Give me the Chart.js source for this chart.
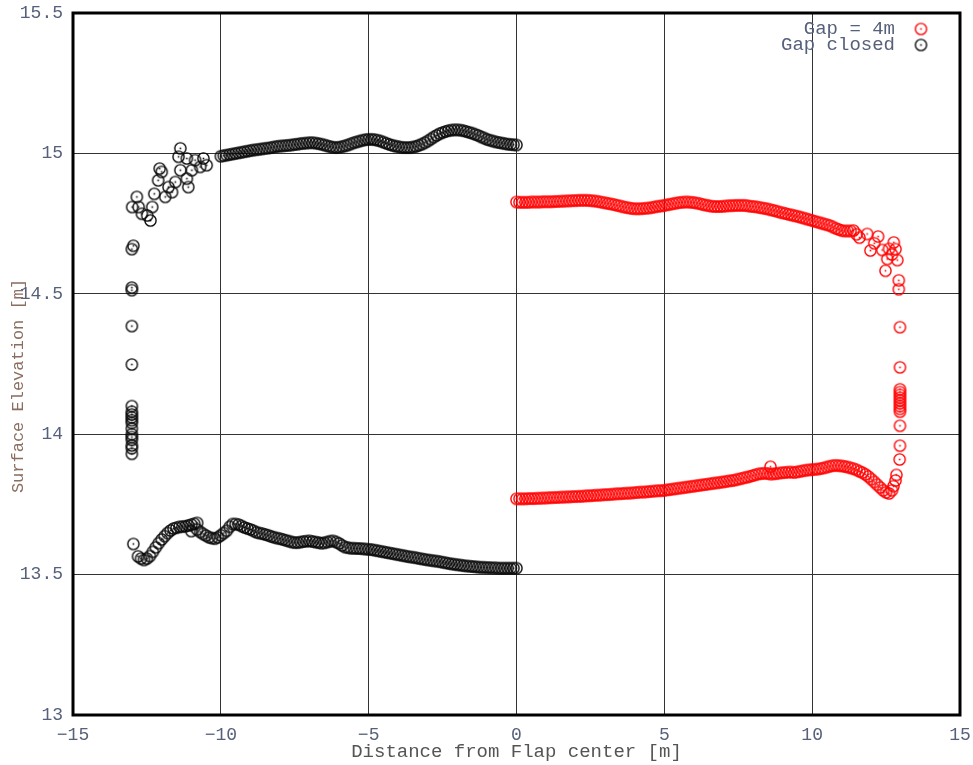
<!DOCTYPE html>
<html>
<head>
<meta charset="utf-8">
<script src="https://cdn.jsdelivr.net/npm/chart.js@4.4.1/dist/chart.umd.min.js"></script>
<style>
  body { margin: 0; background: #fff; }
  canvas { display: block; }
</style>
</head>
<body>
<canvas id="flapChart" width="973" height="765"></canvas>
<script>
// Gap = 4m (red), upper branch
const redUpperX = [0, 0.1, 0.2, 0.3, 0.4, 0.5, 0.6, 0.7, 0.8, 0.9, 1.0, 1.1, 1.2, 1.3, 1.4, 1.5, 1.6, 1.7, 1.8, 1.9,
  2.0, 2.1, 2.2, 2.3, 2.4, 2.5, 2.6, 2.7, 2.8, 2.9, 3.0, 3.1, 3.2, 3.3, 3.4, 3.5, 3.6, 3.7, 3.8, 3.9,
  4.0, 4.1, 4.2, 4.3, 4.4, 4.5, 4.6, 4.7, 4.8, 4.9, 5.0, 5.1, 5.2, 5.3, 5.4, 5.5, 5.6, 5.7, 5.8, 5.9,
  6.0, 6.1, 6.2, 6.3, 6.4, 6.5, 6.6, 6.7, 6.8, 6.9, 7.0, 7.1, 7.2, 7.3, 7.4, 7.5, 7.6, 7.7, 7.8, 7.9,
  8.0, 8.1, 8.2, 8.3, 8.4, 8.5, 8.6, 8.7, 8.8, 8.9, 9.0, 9.1, 9.2, 9.3, 9.4, 9.5, 9.6, 9.7, 9.8, 9.9,
  10.0, 10.1, 10.2, 10.3, 10.4, 10.5, 10.6, 10.7, 10.8, 10.9, 11.0, 11.1, 11.2, 11.3, 11.4, 11.5, 11.6];
const redUpperY = [14.827, 14.826, 14.826, 14.826, 14.826, 14.827, 14.827, 14.827, 14.827, 14.828, 14.828, 14.828, 14.828, 14.829, 14.829, 14.830, 14.830, 14.831, 14.831, 14.832,
  14.832, 14.833, 14.833, 14.833, 14.833, 14.832, 14.831, 14.830, 14.828, 14.826, 14.824, 14.822, 14.820, 14.818, 14.815, 14.813, 14.810, 14.808, 14.806, 14.804,
  14.803, 14.803, 14.803, 14.804, 14.805, 14.806, 14.808, 14.810, 14.812, 14.813, 14.815, 14.817, 14.819, 14.821, 14.823, 14.825, 14.826, 14.827, 14.827, 14.826,
  14.825, 14.823, 14.821, 14.818, 14.816, 14.814, 14.812, 14.811, 14.811, 14.811, 14.812, 14.813, 14.814, 14.814, 14.815, 14.815, 14.815, 14.815, 14.814, 14.812,
  14.811, 14.810, 14.808, 14.806, 14.804, 14.802, 14.799, 14.797, 14.794, 14.791, 14.788, 14.786, 14.783, 14.781, 14.778, 14.776, 14.773, 14.770, 14.767, 14.764,
  14.761, 14.758, 14.755, 14.752, 14.749, 14.746, 14.743, 14.738, 14.733, 14.729, 14.725, 14.724, 14.724, 14.724, 14.725, 14.712, 14.700];

// Gap = 4m, lower branch
const redLowerX = [0, 0.1, 0.2, 0.3, 0.4, 0.5, 0.6, 0.7, 0.8, 0.9, 1.0, 1.1, 1.2, 1.3, 1.4, 1.5, 1.6, 1.7, 1.8, 1.9,
  2.0, 2.1, 2.2, 2.3, 2.4, 2.5, 2.6, 2.7, 2.8, 2.9, 3.0, 3.1, 3.2, 3.3, 3.4, 3.5, 3.6, 3.7, 3.8, 3.9,
  4.0, 4.1, 4.2, 4.3, 4.4, 4.5, 4.6, 4.7, 4.8, 4.9, 5.0, 5.1, 5.2, 5.3, 5.4, 5.5, 5.6, 5.7, 5.8, 5.9,
  6.0, 6.1, 6.2, 6.3, 6.4, 6.5, 6.6, 6.7, 6.8, 6.9, 7.0, 7.1, 7.2, 7.3, 7.4, 7.5, 7.6, 7.7, 7.8, 7.9,
  8.0, 8.1, 8.2, 8.3, 8.4, 8.5, 8.6, 8.7, 8.8, 8.9, 9.0, 9.1, 9.2, 9.3, 9.4, 9.5, 9.6, 9.7, 9.8, 9.9,
  10.0, 10.1, 10.2, 10.3, 10.4, 10.5, 10.6, 10.7, 10.8, 10.9, 11.0, 11.1, 11.2, 11.3, 11.4, 11.5, 11.6, 11.7, 11.8, 11.9,
  12.0, 12.1, 12.2, 12.3, 12.4, 12.5, 12.6, 12.7, 12.75, 12.82, 12.85, 8.59];
const redLowerY = [13.770, 13.770, 13.770, 13.770, 13.771, 13.771, 13.771, 13.772, 13.772, 13.773, 13.773, 13.774, 13.774, 13.775, 13.775, 13.776, 13.776, 13.777, 13.777, 13.778,
  13.778, 13.779, 13.779, 13.780, 13.781, 13.781, 13.782, 13.783, 13.783, 13.784, 13.785, 13.785, 13.786, 13.787, 13.788, 13.788, 13.789, 13.790, 13.790, 13.791,
  13.792, 13.793, 13.794, 13.794, 13.795, 13.796, 13.797, 13.798, 13.799, 13.799, 13.800, 13.802, 13.803, 13.805, 13.806, 13.808, 13.809, 13.811, 13.812, 13.814,
  13.815, 13.817, 13.818, 13.820, 13.821, 13.823, 13.824, 13.826, 13.827, 13.829, 13.830, 13.832, 13.834, 13.835, 13.837, 13.840, 13.842, 13.845, 13.847, 13.850,
  13.853, 13.856, 13.859, 13.860, 13.861, 13.860, 13.858, 13.859, 13.860, 13.862, 13.863, 13.864, 13.865, 13.865, 13.864, 13.866, 13.868, 13.870, 13.872, 13.873,
  13.874, 13.875, 13.876, 13.878, 13.880, 13.883, 13.886, 13.888, 13.889, 13.888, 13.887, 13.885, 13.883, 13.880, 13.877, 13.873, 13.868, 13.863, 13.857, 13.849,
  13.840, 13.830, 13.820, 13.810, 13.800, 13.793, 13.789, 13.800, 13.815, 13.835, 13.855, 13.884];

// Gap = 4m, scattered points near the flap edge
const redEdgeX = [11.86, 12.23, 11.97, 12.37, 12.76, 12.82, 12.54, 12.88, 12.48, 12.93, 12.93, 12.10, 12.60, 12.70,
  12.97, 12.97, 12.97, 12.97, 12.97, 12.97, 12.97, 12.97, 12.97, 12.97, 12.97, 12.97, 12.97, 12.96];
const redEdgeY = [14.713, 14.704, 14.654, 14.656, 14.683, 14.659, 14.624, 14.620, 14.582, 14.548, 14.516, 14.680, 14.660, 14.640,
  14.381, 14.238, 14.160, 14.150, 14.140, 14.130, 14.120, 14.110, 14.100, 14.090, 14.080, 14.030, 13.959, 13.910];

// Gap closed (black), upper branch
const closedUpperX = [-10.0, -9.9, -9.8, -9.7, -9.6, -9.5, -9.4, -9.3, -9.2, -9.1, -9.0, -8.9, -8.8, -8.7, -8.6, -8.5, -8.4, -8.3, -8.2, -8.1,
  -8.0, -7.9, -7.8, -7.7, -7.6, -7.5, -7.4, -7.3, -7.2, -7.1, -7.0, -6.9, -6.8, -6.7, -6.6, -6.5, -6.4, -6.3, -6.2, -6.1,
  -6.0, -5.9, -5.8, -5.7, -5.6, -5.5, -5.4, -5.3, -5.2, -5.1, -5.0, -4.9, -4.8, -4.7, -4.6, -4.5, -4.4, -4.3, -4.2, -4.1,
  -4.0, -3.9, -3.8, -3.7, -3.6, -3.5, -3.4, -3.3, -3.2, -3.1, -3.0, -2.9, -2.8, -2.7, -2.6, -2.5, -2.4, -2.3, -2.2, -2.1,
  -2.0, -1.9, -1.8, -1.7, -1.6, -1.5, -1.4, -1.3, -1.2, -1.1, -1.0, -0.9, -0.8, -0.7, -0.6, -0.5, -0.4, -0.3, -0.2, -0.1, 0];
const closedUpperY = [14.990, 14.992, 14.994, 14.996, 14.998, 15.000, 15.002, 15.004, 15.006, 15.008, 15.010, 15.012, 15.013, 15.015, 15.016, 15.018, 15.019, 15.021, 15.023, 15.025,
  15.026, 15.027, 15.028, 15.029, 15.030, 15.032, 15.033, 15.035, 15.036, 15.037, 15.038, 15.038, 15.037, 15.035, 15.033, 15.030, 15.027, 15.024, 15.022, 15.021,
  15.022, 15.024, 15.027, 15.030, 15.034, 15.038, 15.041, 15.044, 15.047, 15.049, 15.050, 15.050, 15.049, 15.047, 15.044, 15.040, 15.036, 15.032, 15.029, 15.026,
  15.024, 15.022, 15.021, 15.021, 15.021, 15.023, 15.025, 15.029, 15.033, 15.038, 15.044, 15.051, 15.058, 15.064, 15.070, 15.074, 15.078, 15.081, 15.083, 15.084,
  15.084, 15.083, 15.081, 15.078, 15.075, 15.072, 15.068, 15.064, 15.059, 15.055, 15.050, 15.047, 15.044, 15.041, 15.039, 15.037, 15.035, 15.033, 15.032, 15.031, 15.030];

// Gap closed, scattered points near the flap edge (upper)
const closedScatterX = [-11.37, -11.43, -11.15, -10.87, -10.59, -10.48, -10.70, -10.98, -11.37, -11.15, -12.07, -12.00, -12.12, -11.54,
  -11.77, -11.10, -11.88, -12.25, -11.65, -12.84, -13.00, -12.78, -12.67, -12.38, -12.32, -12.49];
const closedScatterY = [15.018, 14.988, 14.982, 14.976, 14.982, 14.958, 14.952, 14.940, 14.940, 14.910, 14.946, 14.934, 14.904, 14.898,
  14.880, 14.880, 14.845, 14.856, 14.862, 14.845, 14.809, 14.809, 14.785, 14.761, 14.809, 14.779];

// Gap closed, vertical column at the flap edge
const closedEdgeX = [-12.96, -13.01, -13.01, -13.01, -13.01, -13.01, -13.01, -13.01, -13.01, -13.01, -13.01, -13.01,
  -13.01, -13.01, -13.01, -13.01, -13.01, -13.01, -13.01, -12.96];
const closedEdgeY = [14.671, 14.659, 14.522, 14.513, 14.385, 14.248, 14.100, 14.080, 14.070, 14.060, 14.050, 14.040,
  14.020, 14.000, 13.990, 13.980, 13.960, 13.950, 13.930, 13.609];

// Gap closed, lower branch
const closedLowerX = [-12.8, -12.7, -12.6, -12.5, -12.4, -12.3, -12.2, -12.1, -12.0, -11.9, -11.8, -11.7, -11.6, -11.5, -11.4, -11.3, -11.2, -11.1,
  -11.0, -10.9, -10.8, -10.7, -10.6, -10.5, -10.4, -10.3, -10.2, -10.1, -10.0, -9.9, -9.8, -9.7, -9.6, -9.5, -9.4, -9.3, -9.2, -9.1,
  -9.0, -8.9, -8.8, -8.7, -8.6, -8.5, -8.4, -8.3, -8.2, -8.1, -8.0, -7.9, -7.8, -7.7, -7.6, -7.5, -7.4, -7.3, -7.2, -7.1,
  -7.0, -6.9, -6.8, -6.7, -6.6, -6.5, -6.4, -6.3, -6.2, -6.1, -6.0, -5.9, -5.8, -5.7, -5.6, -5.5, -5.4, -5.3, -5.2, -5.1,
  -5.0, -4.9, -4.8, -4.7, -4.6, -4.5, -4.4, -4.3, -4.2, -4.1, -4.0, -3.9, -3.8, -3.7, -3.6, -3.5, -3.4, -3.3, -3.2, -3.1,
  -3.0, -2.9, -2.8, -2.7, -2.6, -2.5, -2.4, -2.3, -2.2, -2.1, -2.0, -1.9, -1.8, -1.7, -1.6, -1.5, -1.4, -1.3, -1.2, -1.1,
  -1.0, -0.9, -0.8, -0.7, -0.6, -0.5, -0.4, -0.3, -0.2, -0.1, 0, -10.8, -11.0];
const closedLowerY = [13.565, 13.557, 13.552, 13.557, 13.566, 13.581, 13.597, 13.612, 13.625, 13.637, 13.648, 13.657, 13.664, 13.667, 13.670, 13.671, 13.672, 13.675,
  13.678, 13.681, 13.684, 13.652, 13.645, 13.639, 13.633, 13.630, 13.628, 13.633, 13.640, 13.648, 13.656, 13.670, 13.680, 13.680, 13.678, 13.673, 13.668, 13.664,
  13.661, 13.656, 13.651, 13.648, 13.646, 13.643, 13.640, 13.636, 13.633, 13.630, 13.628, 13.625, 13.622, 13.619, 13.616, 13.614, 13.614, 13.616, 13.618, 13.619,
  13.620, 13.618, 13.616, 13.614, 13.612, 13.613, 13.616, 13.619, 13.620, 13.616, 13.611, 13.604, 13.598, 13.596, 13.594, 13.594, 13.593, 13.593, 13.592, 13.591,
  13.590, 13.589, 13.587, 13.585, 13.583, 13.581, 13.579, 13.577, 13.575, 13.573, 13.571, 13.569, 13.567, 13.565, 13.563, 13.562, 13.560, 13.558, 13.556, 13.554,
  13.552, 13.551, 13.549, 13.548, 13.546, 13.544, 13.542, 13.540, 13.538, 13.537, 13.535, 13.534, 13.532, 13.531, 13.530, 13.529, 13.528, 13.527, 13.526, 13.526,
  13.525, 13.525, 13.524, 13.524, 13.523, 13.523, 13.523, 13.523, 13.523, 13.523, 13.523, 13.660, 13.655];

const seriesLabels = ["Gap = 4m", "Gap closed"];
const xTicks = [-15, -10, -5, 0, 5, 10, 15];
const yTicks = [13, 13.5, 14, 14.5, 15, 15.5];
const xTitle = "Distance from Flap center [m]";
const yTitle = "Surface Elevation [m]";

const toPoints = (xs, ys) => xs.map((x, i) => ({ x: x, y: ys[i] }));

// gnuplot style circle with a dot in the middle
const circleDot = (color) => {
  const c = document.createElement("canvas");
  c.width = 15;
  c.height = 15;
  const g = c.getContext("2d");
  g.strokeStyle = color;
  g.fillStyle = color;
  g.lineWidth = 1.4;
  g.beginPath();
  g.arc(7.5, 7.5, 5.6, 0, Math.PI * 2);
  g.stroke();
  g.fillRect(6.7, 6.7, 1.6, 1.6);
  return c;
};

const redDot = circleDot("rgb(255,0,0)");
const blackDot = circleDot("rgb(10,10,10)");

const tickColor = "#56607a";
const monoFont = "'Liberation Mono', 'Courier New', monospace";

const frameAndLegend = {
  id: "frameAndLegend",
  afterDraw(chart) {
    const { ctx, chartArea } = chart;
    ctx.save();
    ctx.strokeStyle = "#000";
    ctx.lineWidth = 3;
    ctx.strokeRect(chartArea.left, chartArea.top, chartArea.right - chartArea.left, chartArea.bottom - chartArea.top);

    // y axis title, sits a bit below the middle like the gnuplot output
    ctx.save();
    ctx.translate(18, 386);
    ctx.rotate(-Math.PI / 2);
    ctx.font = "17px " + monoFont;
    ctx.fillStyle = "#8a6e60";
    ctx.textAlign = "center";
    ctx.textBaseline = "middle";
    ctx.fillText(yTitle, 0, 0);
    ctx.restore();

    ctx.font = "19px " + monoFont;
    ctx.fillStyle = tickColor;
    ctx.textAlign = "right";
    ctx.textBaseline = "middle";
    const imgs = [redDot, blackDot];
    seriesLabels.forEach((lbl, i) => {
      const y = 29 + i * 16;
      ctx.fillText(lbl, 895, y);
      ctx.drawImage(imgs[i], 921 - 7.5, y - 7.5);
    });
    ctx.restore();
  },
};

const ctx = document.getElementById("flapChart").getContext("2d");

new Chart(ctx, {
  type: "scatter",
  data: {
    datasets: [
      {
        label: seriesLabels[0],
        data: [
          ...toPoints(redUpperX, redUpperY),
          ...toPoints(redLowerX, redLowerY),
          ...toPoints(redEdgeX, redEdgeY),
        ],
        pointStyle: redDot,
        borderColor: "rgb(255,0,0)",
      },
      {
        label: seriesLabels[1],
        data: [
          ...toPoints(closedUpperX, closedUpperY),
          ...toPoints(closedScatterX, closedScatterY),
          ...toPoints(closedEdgeX, closedEdgeY),
          ...toPoints(closedLowerX, closedLowerY),
        ],
        pointStyle: blackDot,
        borderColor: "rgb(10,10,10)",
      },
    ],
  },
  options: {
    responsive: false,
    animation: false,
    layout: {
      padding: { top: 13, right: 13, left: 0, bottom: 0 },
    },
    plugins: {
      legend: { display: false },
      tooltip: { enabled: false },
    },
    scales: {
      x: {
        type: "linear",
        min: -15,
        max: 15,
        afterBuildTicks: (scale) => {
          scale.ticks = xTicks.map((v) => ({ value: v }));
        },
        afterFit: (scale) => {
          scale.height = 50;
          scale.paddingLeft = 0;
          scale.paddingRight = 0;
        },
        grid: {
          color: "#333",
          lineWidth: 1,
          drawTicks: false,
        },
        border: { display: false },
        ticks: {
          padding: 9,
          color: tickColor,
          font: { family: monoFont, size: 18 },
          callback: (v) => String(v).replace("-", "\u2212"),
        },
        title: {
          display: true,
          text: xTitle,
          color: "#555",
          font: { family: monoFont, size: 19 },
          padding: { top: 0, bottom: 2 },
        },
      },
      y: {
        min: 13,
        max: 15.5,
        afterBuildTicks: (scale) => {
          scale.ticks = yTicks.map((v) => ({ value: v }));
        },
        afterFit: (scale) => {
          scale.width = 73;
          scale.paddingTop = 0;
          scale.paddingBottom = 0;
        },
        grid: {
          color: "#333",
          lineWidth: 1,
          drawTicks: false,
        },
        border: { display: false },
        ticks: {
          padding: 10,
          color: tickColor,
          font: { family: monoFont, size: 18 },
          callback: (v) => String(v),
        },
      },
    },
  },
  plugins: [frameAndLegend],
});
</script>
</body>
</html>
